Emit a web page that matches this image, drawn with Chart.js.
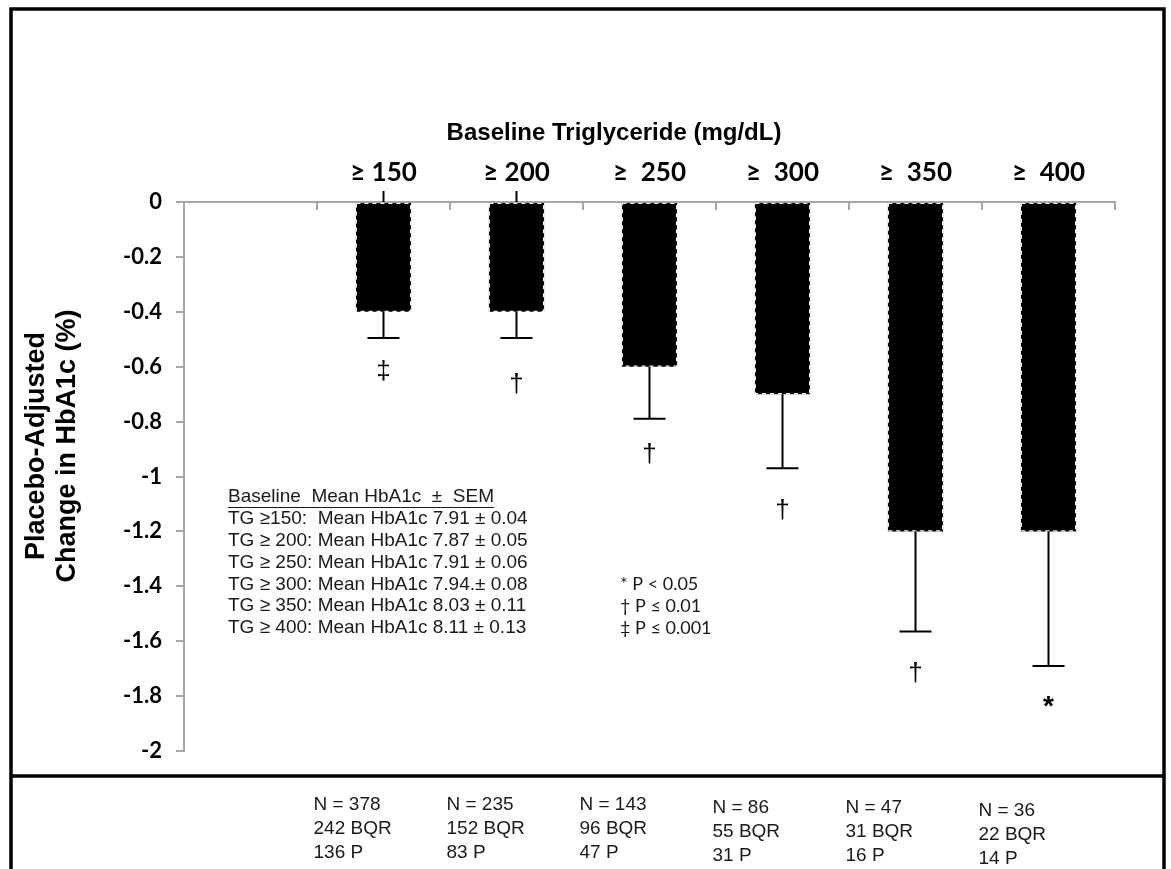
<!DOCTYPE html>
<html><head><meta charset="utf-8">
<script src="https://cdn.jsdelivr.net/npm/chart.js@4.4.1/dist/chart.umd.min.js"></script>
<style>html,body{margin:0;padding:0;background:#fff;overflow:hidden}#wrap{position:relative;width:1171px;height:869px}</style>
</head><body><div id="wrap"><canvas id="c" width="1171" height="869"></canvas></div>
<script>
const categories = ['', '≥ 150', '≥ 200', '≥  250', '≥  300', '≥  350', '≥  400'];
const changeHbA1c = [null, -0.4, -0.4, -0.6, -0.7, -1.2, -1.2];
const semValues = [null, 0.095, 0.095, 0.19, 0.27, 0.365, 0.49];
const sigMarks = ['', '‡', '†', '†', '†', '†', '*'];
const sigMarkValues = [null, -0.62, -0.665, -0.92, -1.125, -1.72, -1.84];
const yTicks = [0, -0.2, -0.4, -0.6, -0.8, -1, -1.2, -1.4, -1.6, -1.8, -2];
const yTickLabels = ['0', '-0.2', '-0.4', '-0.6', '-0.8', '-1', '-1.2', '-1.4', '-1.6', '-1.8', '-2'];
const nTotal = [null, 378, 235, 143, 86, 47, 36];
const nBQR = [null, 242, 152, 96, 55, 31, 22];
const nPlacebo = [null, 136, 83, 47, 31, 16, 14];
const chartTitle = 'Baseline Triglyceride (mg/dL)';
const yTitle = ['Placebo-Adjusted', 'Change in HbA1c (%)'];
const baselineHeader = 'Baseline  Mean HbA1c  ±  SEM';
const baselineRows = [
  'TG ≥150:  Mean HbA1c 7.91 ± 0.04',
  'TG ≥ 200: Mean HbA1c 7.87 ± 0.05',
  'TG ≥ 250: Mean HbA1c 7.91 ± 0.06',
  'TG ≥ 300: Mean HbA1c 7.94.± 0.08',
  'TG ≥ 350: Mean HbA1c 8.03 ± 0.11',
  'TG ≥ 400: Mean HbA1c 8.11 ± 0.13'
];
const legendRows = ['* P < 0.05', '† P ≤ 0.01', '‡ P ≤ 0.001'];

const AXIS_GRAY = '#a6a6a6';

const decor = {
  id: 'decor',
  beforeDraw(chart) {
    const ctx = chart.ctx;
    ctx.save(); ctx.fillStyle = '#fff'; ctx.fillRect(0, 0, chart.width, chart.height); ctx.restore();
  },
  afterDatasetsDraw(chart) {
    const ctx = chart.ctx, ys = chart.scales.y, xs = chart.scales.x;
    const meta = chart.getDatasetMeta(0);
    ctx.save();
    // category boundary ticks on the top axis
    ctx.strokeStyle = AXIS_GRAY; ctx.lineWidth = 2;
    const n = categories.length, cw = xs.width / n;
    for (let i = 1; i <= n; i++) {
      const x = Math.round(xs.left + i * cw);
      ctx.beginPath(); ctx.moveTo(x, xs.bottom); ctx.lineTo(x, xs.bottom + 8); ctx.stroke();
    }
    meta.data.forEach((el, i) => {
      const v = changeHbA1c[i];
      if (v === null) return;
      // dashed edge look
      const l = el.x - el.width / 2, top = Math.min(el.y, el.base), h = Math.abs(el.base - el.y);
      ctx.save();
      ctx.strokeStyle = '#ffffff'; ctx.lineWidth = 1.2; ctx.setLineDash([4, 4]);
      ctx.strokeRect(l + 0.5, top + 0.5, el.width - 1, h - 1);
      ctx.restore();
      // error bar
      const y0 = ys.getPixelForValue(v), y1 = ys.getPixelForValue(v - semValues[i]);
      ctx.strokeStyle = '#000'; ctx.lineWidth = 2; ctx.setLineDash([]);
      ctx.beginPath(); ctx.moveTo(el.x, y0); ctx.lineTo(el.x, y1);
      ctx.moveTo(el.x - 16, y1); ctx.lineTo(el.x + 16, y1); ctx.stroke();
      // short stub above the axis for the first two groups
      if (i <= 2) {
        ctx.beginPath(); ctx.moveTo(el.x, ys.top); ctx.lineTo(el.x, ys.top - 11); ctx.stroke();
      }
      // significance mark
      ctx.fillStyle = '#000'; ctx.textAlign = 'center'; ctx.textBaseline = 'middle';
      ctx.font = sigMarks[i] === '*' ? 'bold 28px "Liberation Sans"' : '26px "Liberation Sans"';
      ctx.fillText(sigMarks[i], el.x, ys.getPixelForValue(sigMarkValues[i]));
    });
    ctx.restore();
  },
  afterDraw(chart) {
    const ctx = chart.ctx;
    const meta = chart.getDatasetMeta(0);
    ctx.save();
    // frame
    ctx.strokeStyle = '#000'; ctx.lineWidth = 3.5;
    ctx.beginPath(); ctx.moveTo(11, 880); ctx.lineTo(11, 9); ctx.lineTo(1164, 9); ctx.lineTo(1164, 880); ctx.stroke();
    ctx.beginPath(); ctx.moveTo(11, 776); ctx.lineTo(1164, 776); ctx.stroke();
    // title
    ctx.fillStyle = '#000'; ctx.textAlign = 'center'; ctx.textBaseline = 'middle';
    ctx.font = 'bold 24px "Liberation Sans"';
    ctx.fillText(chartTitle, 614, 133);
    // y title
    ctx.save();
    ctx.translate(0, 446); ctx.rotate(-Math.PI / 2);
    ctx.font = 'bold 27px "Liberation Sans"';
    ctx.fillText(yTitle[0], 0, 37);
    ctx.fillText(yTitle[1], 0, 68);
    ctx.restore();
    // baseline text block
    ctx.textAlign = 'left'; ctx.textBaseline = 'middle';
    ctx.font = '19px "Liberation Sans"'; ctx.fillStyle = '#1a1a1a';
    ctx.fillText(baselineHeader, 228, 497);
    const hw = ctx.measureText(baselineHeader).width;
    ctx.strokeStyle = '#1a1a1a'; ctx.lineWidth = 1;
    ctx.beginPath(); ctx.moveTo(228, 507.5); ctx.lineTo(228 + hw, 507.5); ctx.stroke();
    baselineRows.forEach((r, k) => ctx.fillText(r, 228, 519 + k * 21.8));
    ctx.font = '18px Lato';
    legendRows.forEach((r, k) => ctx.fillText(r, 620, 584.5 + k * 21.8));
    // N table
    ctx.font = '19px "Liberation Sans"';
    meta.data.forEach((el, i) => {
      if (nTotal[i] === null) return;
      const x = el.x - 70, dy = i === 6 ? 6 : (i >= 4 ? 3 : 0);
      ctx.fillText('N = ' + nTotal[i], x, 805 + dy);
      ctx.fillText(nBQR[i] + ' BQR', x, 829 + dy);
      ctx.fillText(nPlacebo[i] + ' P', x, 853 + dy);
    });
    ctx.restore();
  }
};

new Chart(document.getElementById('c'), {
  type: 'bar',
  data: {
    labels: categories,
    datasets: [{
      data: changeHbA1c,
      backgroundColor: '#000',
      borderWidth: 0,
      categoryPercentage: 1,
      barPercentage: 0.415
    }]
  },
  options: {
    responsive: false, animation: false, devicePixelRatio: 1,
    layout: { padding: { left: 0, top: 0, right: 56, bottom: 118 } },
    plugins: { legend: { display: false }, tooltip: { enabled: false }, title: { display: false } },
    scales: {
      x: {
        position: 'top', offset: true,
        grid: { display: true, drawOnChartArea: false, drawTicks: false, color: 'rgba(0,0,0,0)' },
        border: { display: true, color: AXIS_GRAY, width: 2 },
        ticks: { color: '#000', font: { family: 'Lato', weight: 'bold', size: 26 }, padding: 14, maxRotation: 0, autoSkip: false },
        afterFit(s) { s.height = 202; }
      },
      y: {
        min: -2, max: 0,
        grid: { drawOnChartArea: false, drawTicks: true, tickLength: 8, color: AXIS_GRAY, lineWidth: 2 },
        border: { display: true, color: AXIS_GRAY, width: 2 },
        ticks: {
          color: '#000', font: { family: 'Lato', weight: 'bold', size: 22 }, padding: 14,
          callback: (v) => { const k = yTicks.findIndex(t => Math.abs(t - v) < 1e-6); return k >= 0 ? yTickLabels[k] : ''; }
        },
        afterBuildTicks(s) { s.ticks = yTicks.map(v => ({ value: v })); },
        afterFit(s) { s.width = 184; }
      }
    }
  },
  plugins: [decor]
});
</script></body></html>
